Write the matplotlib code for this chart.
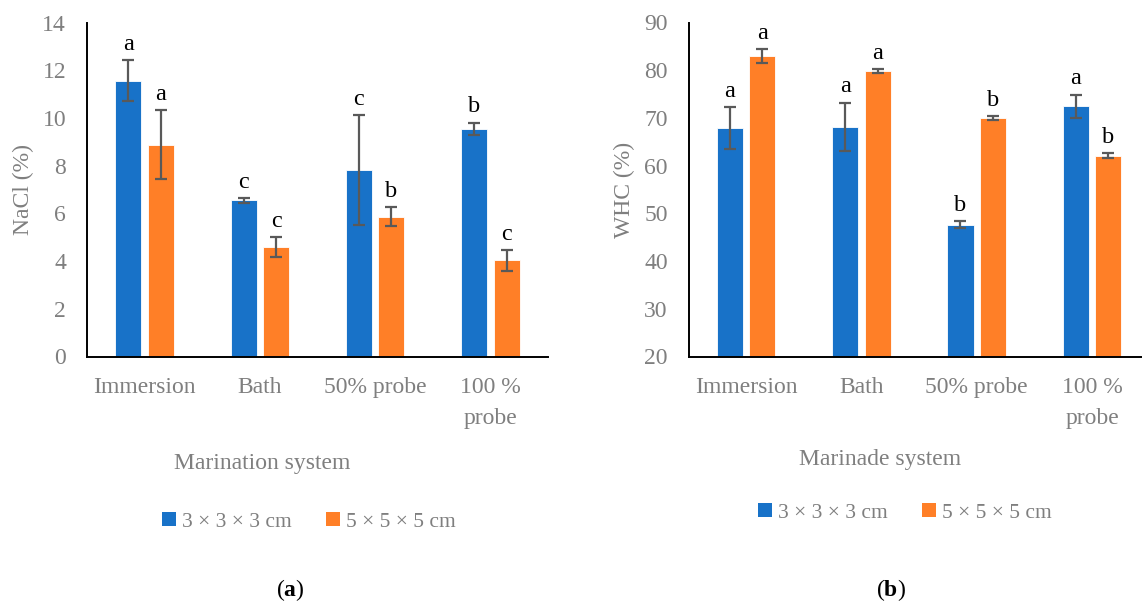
import matplotlib
matplotlib.use("Agg")
import matplotlib.pyplot as plt
import numpy as np
from matplotlib.patches import Patch

plt.rcParams['font.family'] = ['Liberation Serif', 'DejaVu Serif']
plt.rcParams['mathtext.fontset'] = 'custom'
plt.rcParams['mathtext.rm'] = 'Liberation Serif'
plt.rcParams['mathtext.bf'] = 'Liberation Serif:bold'

categories = ["Immersion", "Bath", "50% probe", "100 %\nprobe"]
series_names = ["3 × 3 × 3 cm", "5 × 5 × 5 cm"]

nacl_small = [11.55, 6.54, 7.82, 9.55]
nacl_small_err = [0.86, 0.10, 2.29, 0.25]
nacl_large = [8.88, 4.57, 5.85, 4.03]
nacl_large_err = [1.45, 0.42, 0.40, 0.43]
nacl_small_letters = ["a", "c", "c", "b"]
nacl_large_letters = ["a", "c", "b", "c"]

whc_small = [67.9, 68.1, 47.6, 72.4]
whc_small_err = [4.35, 5.1, 0.75, 2.4]
whc_large = [83.0, 79.75, 69.9, 62.1]
whc_large_err = [1.4, 0.4, 0.4, 0.5]
whc_small_letters = ["a", "a", "b", "a"]
whc_large_letters = ["a", "a", "b", "b"]

BLUE = "#1872C8"
ORANGE = "#FF7F27"
GRAY = "#7F7F7F"
ERR = "#595959"
FS = 17

fig = plt.figure(figsize=(11.42, 6.06), dpi=100)
ax1 = fig.add_axes([87 / 1142, 1 - 356.5 / 606, 461 / 1142, 334 / 606])
ax2 = fig.add_axes([688.5 / 1142, 1 - 356.5 / 606, 453.5 / 1142, 334 / 606])

def draw(ax, s, se, l, le, sl, ll, ylim, yticks, ylabel, xmax, labx):
    x = np.arange(len(categories))
    off = 0.141
    w = 0.226
    base = ylim[0]
    for xs, vals, errs, col, letters in [(x - off, s, se, BLUE, sl), (x + off, l, le, ORANGE, ll)]:
        vals = np.array(vals)
        ax.bar(xs, vals - base, bottom=base, width=w, color=col, edgecolor="white",
               linewidth=0.6, zorder=2)
        ax.errorbar(xs, vals, yerr=errs, fmt="none", ecolor=ERR, elinewidth=1.6,
                    capsize=4.3, capthick=1.6, zorder=3)
        for xi, v, e, t in zip(xs, vals, errs, letters):
            ax.annotate(t, (xi, v + e), xytext=(0, 4), textcoords="offset points",
                        ha="center", va="bottom", fontsize=FS + 0.5, color="black")
    ax.set_ylim(*ylim)
    ax.set_xlim(-0.5, xmax)
    ax.set_yticks(yticks)
    ax.set_xticks(x)
    ax.set_xticklabels(categories, linespacing=1.6)
    ax.tick_params(axis="both", length=0, labelsize=FS, labelcolor=GRAY)
    ax.tick_params(axis="y", pad=15)
    ax.tick_params(axis="x", pad=15)
    for sp in ["top", "right"]:
        ax.spines[sp].set_visible(False)
    for sp in ["left", "bottom"]:
        ax.spines[sp].set_linewidth(1.4)
        ax.spines[sp].set_color("black")
    ax.set_ylabel(ylabel, fontsize=FS, color=GRAY)
    ax.yaxis.set_label_coords(labx, 0.5)

draw(ax1, nacl_small, nacl_small_err, nacl_large, nacl_large_err,
     nacl_small_letters, nacl_large_letters, (0, 14), range(0, 15, 2), "NaCl (%)", 3.5, -0.115)
draw(ax2, whc_small, whc_small_err, whc_large, whc_large_err,
     whc_small_letters, whc_large_letters, (20, 90), range(20, 91, 10), "WHC (%)",
     -0.5 + 453.5 / 115.3, -0.118)

fig.text(262 / 1142, 1 - 464 / 606, "Marination system", ha="center", va="center",
         fontsize=FS, color=GRAY)
fig.text(880 / 1142, 1 - 459 / 606, "Marinade system", ha="center", va="center",
         fontsize=FS, color=GRAY)

handles = [Patch(facecolor=BLUE, edgecolor="none"), Patch(facecolor=ORANGE, edgecolor="none")]
for cx, cy in [(309, 522), (905, 513)]:
    leg = fig.legend(handles, series_names, loc="center", bbox_to_anchor=(cx / 1142, 1 - cy / 606),
                     ncol=2, frameon=False, fontsize=15.5, handlelength=0.62, handleheight=0.62,
                     handletextpad=0.3, columnspacing=1.6)
    for t in leg.get_texts():
        t.set_color(GRAY)

fig.text(290 / 1142, 1 - 590 / 606, r"($\mathbf{a}$)", ha="center", va="center", fontsize=FS)
fig.text(891 / 1142, 1 - 590 / 606, r"($\mathbf{b}$)", ha="center", va="center", fontsize=FS)

fig.savefig("out.png", dpi=100)
